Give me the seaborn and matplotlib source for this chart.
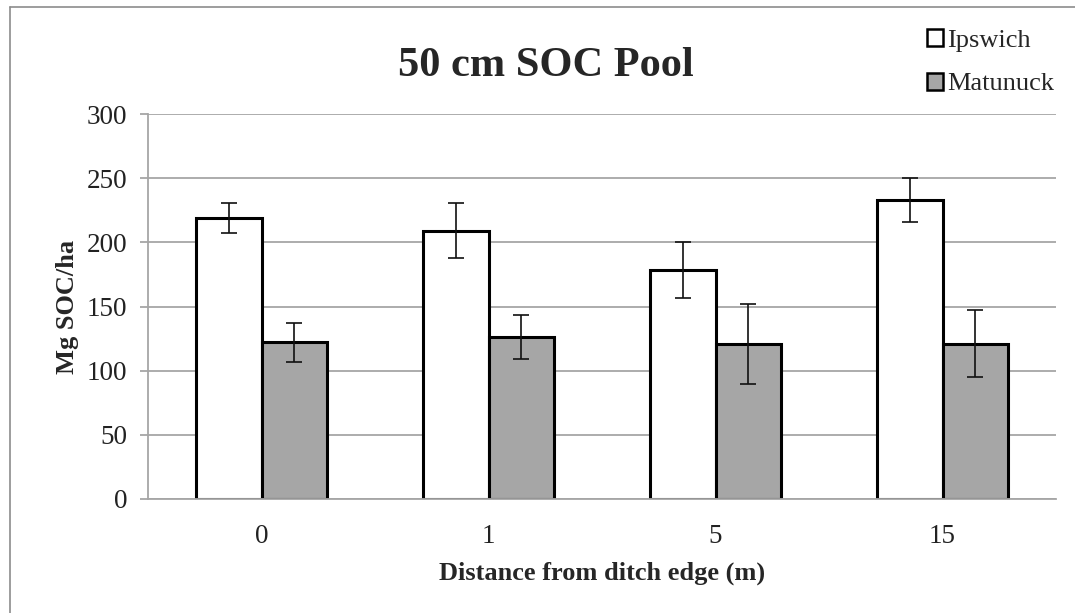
import matplotlib
matplotlib.use("Agg")
import matplotlib.pyplot as plt
from matplotlib.patches import Patch
from matplotlib.lines import Line2D
import seaborn as sns
import pandas as pd

# ---- data ----
distances = ["0", "1", "5", "15"]
sites = ["Ipswich", "Matunuck"]
ipswich_soc = [219, 209, 178.5, 233]
ipswich_err = [12, 21.5, 21.5, 17.5]
matunuck_soc = [122, 126, 121, 121]
matunuck_err = [15, 17, 31, 26]
yticks = [0, 50, 100, 150, 200, 250, 300]

df = pd.DataFrame({
    "Distance": distances * 2,
    "Site": [sites[0]] * 4 + [sites[1]] * 4,
    "SOC": ipswich_soc + matunuck_soc,
})
errs = {sites[0]: ipswich_err, sites[1]: matunuck_err}

sns.set_theme(style="white")
plt.rcParams["font.family"] = ["Liberation Serif", "DejaVu Serif"]

fig = plt.figure(figsize=(10.75, 6.13), dpi=100)
ax = fig.add_axes([148 / 1075, 114 / 613, 908 / 1075, 385 / 613])

colors = {"Ipswich": "#ffffff", "Matunuck": "#a6a6a6"}
sns.barplot(data=df, x="Distance", y="SOC", hue="Site", order=distances,
            hue_order=sites, palette=colors, edgecolor="black", linewidth=2.2,
            width=0.573, gap=0, errorbar=None, legend=False, ax=ax,
            saturation=1)

for site, cont in zip(sites, ax.containers):
    for bar, e in zip(cont, errs[site]):
        ax.errorbar(bar.get_x() + bar.get_width() / 2, bar.get_height(), yerr=e,
                    fmt="none", ecolor="#111111", elinewidth=1.2, capsize=6,
                    capthick=1.2, zorder=5)

ax.set_ylim(0, 300)
ax.set_yticks(yticks)
ax.set_yticklabels([str(t) for t in yticks])
ax.set_xlim(-0.5, 3.5)
ax.yaxis.grid(True, color="#a6a6a6", linewidth=1.3)
ax.set_axisbelow(True)
for s in ["top", "right"]:
    ax.spines[s].set_visible(False)
for s in ["left", "bottom"]:
    ax.spines[s].set_color("#a6a6a6")
    ax.spines[s].set_linewidth(1.3)
ax.tick_params(axis="y", direction="out", length=6, width=1.3, color="#a6a6a6",
               labelsize=19.5, pad=9, left=True)
ax.tick_params(axis="x", length=0, labelsize=19.5, pad=18)
for lab in ax.get_xticklabels() + ax.get_yticklabels():
    lab.set_color("#222222")

ax.set_xlabel("Distance from ditch edge (m)", fontsize=19, fontweight="bold",
              labelpad=9)
ax.set_ylabel("Mg SOC/ha", fontsize=19, fontweight="bold", labelpad=5.5)
fig.text(546 / 1075, 1 - 66 / 613, "50 cm SOC Pool", fontsize=30.5,
         fontweight="bold", ha="center", va="center")

handles = [Patch(facecolor=colors[s], edgecolor="black", linewidth=1.8)
           for s in sites]
fig.legend(handles, sites, loc="upper left", bbox_to_anchor=(927 / 1075, 1 - 29 / 613),
           frameon=False, fontsize=19, handlelength=0.6, handleheight=0.6,
           handletextpad=0.15, labelspacing=0.8, borderaxespad=0, borderpad=0)

# outer chart-area border (only top and left visible)
fig.add_artist(Line2D([10 / 1075, 1], [1 - 7 / 613, 1 - 7 / 613],
                      transform=fig.transFigure, color="#8c8c8c", linewidth=1.2))
fig.add_artist(Line2D([10 / 1075, 10 / 1075], [0, 1 - 7 / 613],
                      transform=fig.transFigure, color="#8c8c8c", linewidth=1.2))

fig.savefig("out.png", dpi=100)
